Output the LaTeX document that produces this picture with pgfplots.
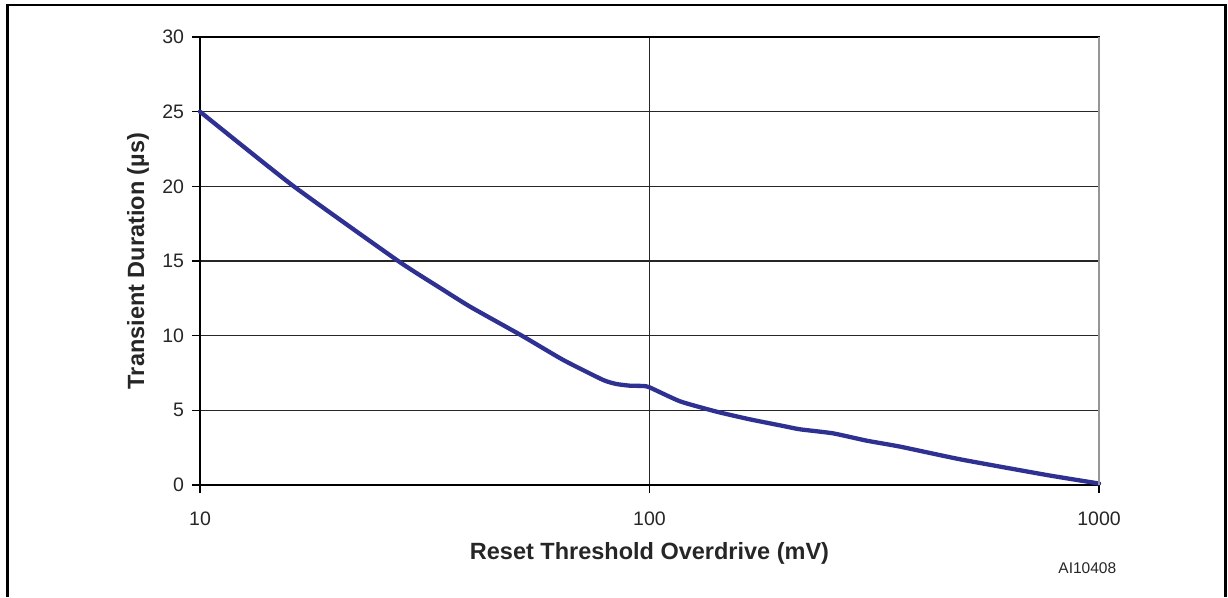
\documentclass[border=0pt]{standalone}
\usepackage{pgfplots}
\pgfplotsset{compat=1.18}
\usepackage{fontspec}
\setmainfont{Liberation Sans}

\definecolor{curve}{RGB}{46,49,146}
\definecolor{edge}{RGB}{150,150,150}

\begin{document}
\begin{tikzpicture}[x=1pt,y=1pt]
\path[use as bounding box] (0,0) rectangle (1228,597);
% outer frame
\draw[line width=2.6pt] (7.5,0) -- (7.5,592) -- (1225.5,592) -- (1225.5,0);
\begin{axis}[
  at={(200pt,112pt)}, anchor=south west,
  width=899pt, height=448pt, scale only axis,
  xmode=log, xmin=10, xmax=1000, ymin=0, ymax=30,
  xtick={10,100,1000}, xticklabels={10,100,1000},
  ytick={0,5,...,30},
  xminorticks=false,
  xtick pos=bottom, ytick pos=left,
  xmajorgrids, ymajorgrids,
  grid style={black!85, line width=1.1pt},
  axis line style={black, line width=1.1pt},
  tick style={black, line width=1.1pt},
  tick align=outside, major tick length=8pt,
  /pgf/number format/assume math mode=true,
  ticklabel style={font=\fontsize{19.5}{21}\selectfont, text=black!85},
  xticklabel style={yshift=-15pt},
  yticklabel style={xshift=-4.5pt},
  xlabel={Reset Threshold Overdrive (mV)},
  ylabel={Transient Duration (µs)},
  label style={font=\fontsize{23.5}{25}\selectfont\bfseries, text=black!85},
  xlabel style={at={(axis description cs:0.5,-0.152)}, anchor=center},
  ylabel style={at={(axis description cs:-0.069,0.5)}, anchor=center},
  clip=false,
]
\addplot[curve, line width=4.3pt, line join=round, line cap=round, smooth, tension=0.3] coordinates {
  (10,25) (16,20.1) (27.6,15) (34.2,13.2) (39.9,11.94) (52,10)
  (64.3,8.37) (78.9,7.03) (84.5,6.76) (90.5,6.65) (96.9,6.63)
  (100,6.54) (117,5.6) (141,4.91) (167,4.40) (198.5,3.95)
  (216,3.73) (256,3.46) (304,2.97) (361,2.57) (491,1.72)
  (765,0.67) (1000,0.1)
};
\draw[edge, line width=1.4pt] (rel axis cs:1,0) -- (rel axis cs:1,1);
\node[font=\fontsize{15.5}{17}\selectfont, text=black!85] at (rel axis cs:0.987,-0.186) {AI10408};
\end{axis}
\end{tikzpicture}
\end{document}
